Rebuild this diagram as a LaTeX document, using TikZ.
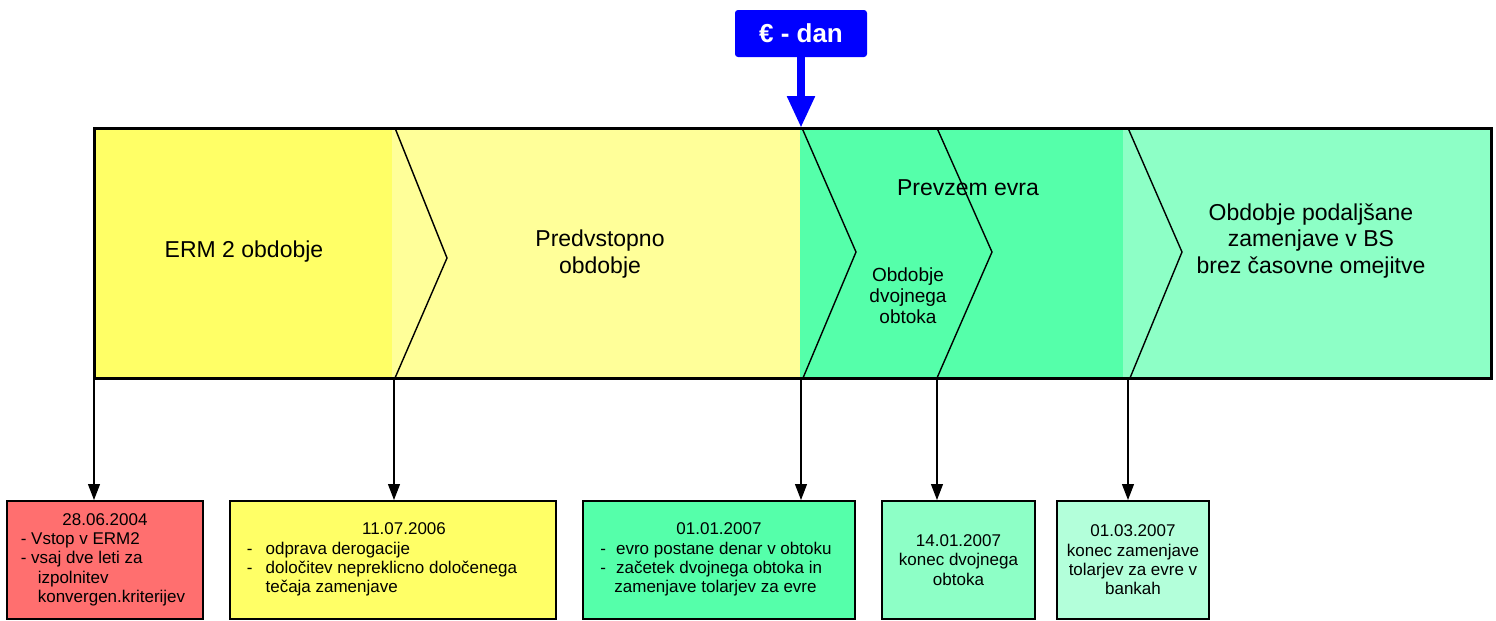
\documentclass[tikz,border=0pt]{standalone}
\usepackage{fontspec}
\setmainfont{Liberation Sans}
\usetikzlibrary{arrows.meta}

\definecolor{ermyellow}{HTML}{FFFF66}
\definecolor{preyellow}{HTML}{FFFF99}
\definecolor{eurogreen}{HTML}{55FFAA}
\definecolor{bsgreen}{HTML}{8DFFC6}
\definecolor{palegreen}{HTML}{B3FFDA}
\definecolor{ermred}{HTML}{FF6F6F}

\tikzset{
  chevron/.style={draw=black, line width=0.7pt},
  phase/.style={font=\fontsize{11.5}{13.3}\selectfont, align=center},
  datebox/.style={draw=black, line width=1pt, rectangle, minimum height=59pt,
    inner sep=0pt, font=\fontsize{8.5}{9.7}\selectfont},
  dateline/.style={->, line width=0.6pt},
}

\begin{document}
\begin{tikzpicture}[x=0.5pt, y=-0.5pt, >={Triangle[length=8pt,width=6pt]}]
    \useasboundingbox (0, 0) rectangle (1496, 621);
    % the band of periods
    \fill[ermyellow] (94, 128) rectangle (392, 378);
    \fill[preyellow] (392, 128) rectangle (800, 378);
    \fill[eurogreen] (800, 128) rectangle (1123, 378);
    \fill[bsgreen] (1123, 128) rectangle (1491, 378);
    \draw[chevron] (395, 128) -- (447, 258) -- (395, 378);
    \draw[chevron] (802, 128) -- (856, 252) -- (803, 378);
    \draw[chevron] (937, 128) -- (992, 252) -- (937, 378);
    \draw[chevron] (1128, 128) -- (1182, 252) -- (1130, 378);
    \draw[line width=1.5pt] (94, 128) rectangle (1491, 378);

    \node[phase] at (244, 252) (erm)
      {ERM 2 obdobje};
    \node[phase] at (600, 254) (pre)
      {Predvstopno\\obdobje};
    \node[phase] at (968, 188) (prevzem)
      {Prevzem evra};
    \node[phase, font=\fontsize{9.5}{10.6}\selectfont] at (908, 296) (dvojni)
      {Obdobje\\dvojnega\\obtoka};
    \node[phase] at (1311, 241) (bs)
      {Obdobje podaljšane\\zamenjave v BS\\brez časovne omejitve};

    % points on the band
    \coordinate (t1) at (94, 378);
    \coordinate (t2) at (394, 378);
    \coordinate (t3) at (801, 378);
    \coordinate (t4) at (937, 378);
    \coordinate (t5) at (1128, 378);
    \coordinate (eday) at (801, 128);

    % euro day
    \node[fill=blue, text=white, rounded corners=1.5pt, minimum width=66pt,
      minimum height=23.5pt, font=\fontsize{13}{15}\bfseries]
      at (801, 33.5) (eurodan) {€ - dan};
    \path (eurodan.south) edge [blue, line width=4pt,
      -{Triangle[length=16pt,width=13pt]}] (eday);

    % dates
    \node[datebox, fill=ermred, minimum width=98pt] at (105, 560) (d1)
      {\begin{tabular}{@{}l@{\hspace{2pt}}}
        \multicolumn{1}{c}{28.06.2004}\\
        - Vstop v ERM2\\
        - vsaj dve leti za\\
        \hspace{8.5pt}izpolnitev\\
        \hspace{8.5pt}konvergen.kriterijev
      \end{tabular}};
    \node[datebox, fill=ermyellow, minimum width=163pt] at (393, 560) (d2)
      {\begin{tabular}{@{}l@{\hspace{11pt}}}
        \multicolumn{1}{c}{\hspace{11pt}11.07.2006}\\
        -\hspace{6.5pt}odprava derogacije\\
        -\hspace{6.5pt}določitev nepreklicno določenega\\
        \hspace{9.3pt}tečaja zamenjave
      \end{tabular}};
    \node[datebox, fill=eurogreen, minimum width=136pt] at (719, 560) (d3)
      {\begin{tabular}{@{}l@{\hspace{3pt}}}
        \multicolumn{1}{c}{01.01.2007}\\
        -\hspace{5pt}evro postane denar v obtoku\\
        -\hspace{5pt}začetek dvojnega obtoka in\\
        \hspace{7pt}zamenjave tolarjev za evre
      \end{tabular}};
    \node[datebox, fill=bsgreen, minimum width=76.5pt, align=center]
      at (958.5, 560) (d4)
      {14.01.2007\\konec dvojnega\\obtoka};
    \node[datebox, fill=palegreen, minimum width=76pt, align=center]
      at (1133, 560) (d5)
      {01.03.2007\\konec zamenjave\\tolarjev za evre v\\bankah};

    \path
      (t1) edge [dateline] (t1 |- d1.north)
      (t2) edge [dateline] (t2 |- d2.north)
      (t3) edge [dateline] (t3 |- d3.north)
      (t4) edge [dateline] (t4 |- d4.north)
      (t5) edge [dateline] (t5 |- d5.north);
  \end{tikzpicture}
\end{document}
